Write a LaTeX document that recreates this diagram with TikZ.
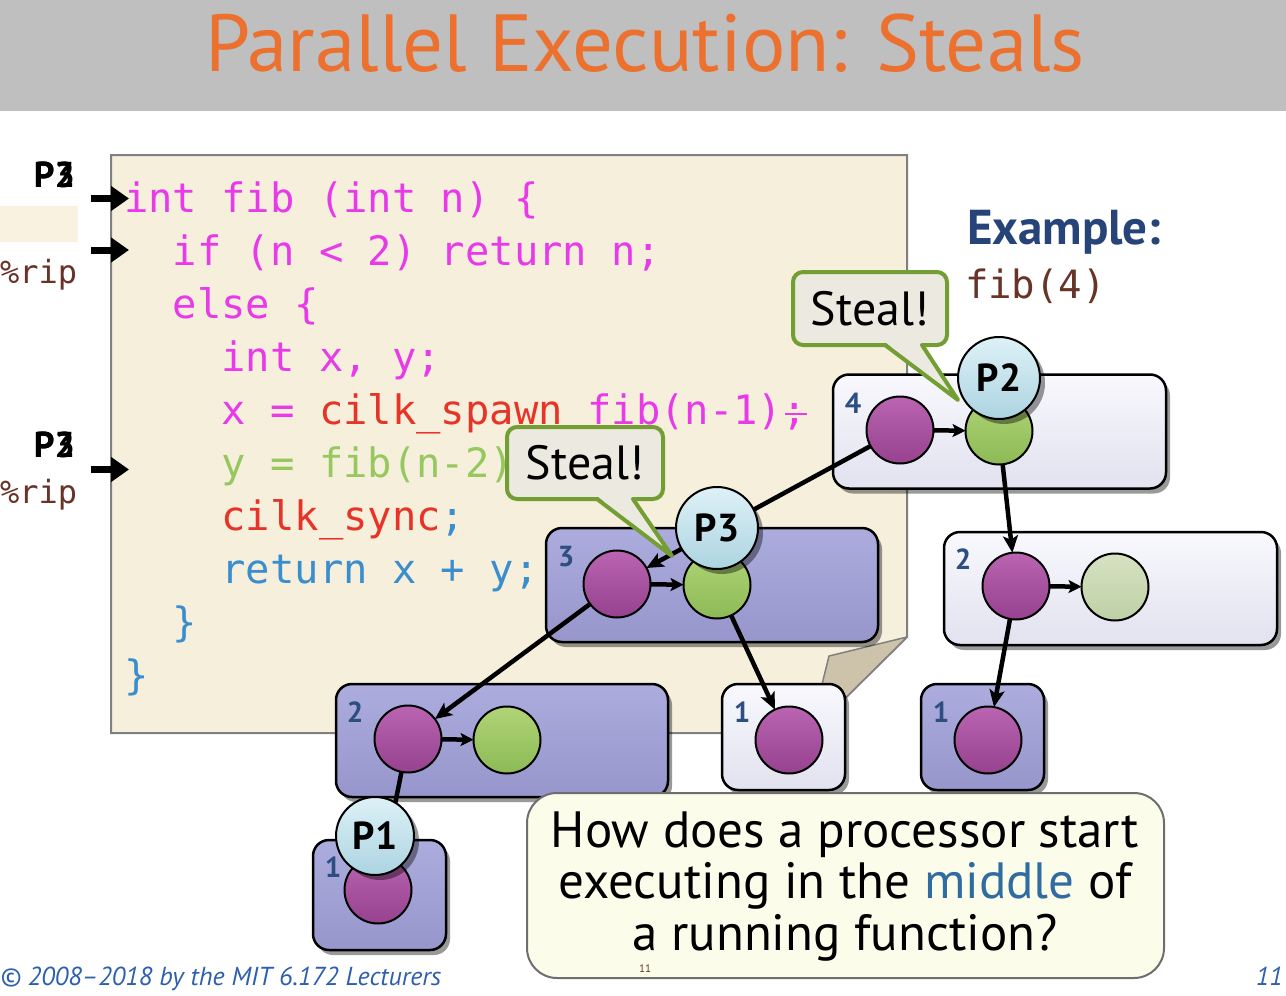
\documentclass[tikz,border=0pt]{standalone}
\usepackage{fontspec}
\setmainfont{PT Sans}
\setmonofont{DejaVu Sans Mono}
\usetikzlibrary{arrows.meta,shadows,calc}
\definecolor{ttl}{RGB}{236,113,47}
\definecolor{bar}{RGB}{191,191,191}
\definecolor{paper}{RGB}{246,239,220}
\definecolor{flap}{RGB}{204,195,170}
\definecolor{pgray}{RGB}{128,128,128}
\definecolor{cmag}{RGB}{232,58,232}
\definecolor{cred}{RGB}{230,52,40}
\definecolor{cgrn}{RGB}{150,200,95}
\definecolor{cblu}{RGB}{58,142,205}
\definecolor{brn}{RGB}{105,52,40}
\definecolor{exblue}{RGB}{38,68,120}
\definecolor{numblue}{RGB}{45,78,128}
\definecolor{lightTop}{RGB}{248,248,253}
\definecolor{lightBot}{RGB}{226,226,240}
\definecolor{darkTop}{RGB}{172,172,222}
\definecolor{darkBot}{RGB}{150,150,204}
\definecolor{purTop}{RGB}{186,100,178}
\definecolor{purBot}{RGB}{150,66,142}
\definecolor{grnTop}{RGB}{176,212,118}
\definecolor{grnBot}{RGB}{140,186,86}
\definecolor{pgTop}{RGB}{214,226,194}
\definecolor{pgBot}{RGB}{190,208,166}
\definecolor{procTop}{RGB}{222,241,247}
\definecolor{procBot}{RGB}{172,212,225}
\definecolor{stfill}{RGB}{236,234,224}
\definecolor{stgreen}{RGB}{114,158,52}
\definecolor{qfill}{RGB}{252,252,235}
\definecolor{qborder}{RGB}{110,110,110}
\definecolor{qblue}{RGB}{48,108,160}
\definecolor{foot}{RGB}{45,95,175}
\definecolor{ripbox}{RGB}{250,242,224}
\newcommand\setfs[1]{\fontsize{#1}{#1}\selectfont}
\begin{document}
\begin{tikzpicture}[x=1pt,y=-1pt,
  every node/.style={inner sep=0pt,outer sep=0pt},
  codeline/.style={anchor=base west,font=\ttfamily\setfs{40.5}},
  ptr/.style={line width=7pt,-{Triangle[length=18pt,width=24pt]}},
  fibframe/.style={draw=black,line width=2.5pt,rounded corners=16pt,
     drop shadow={shadow xshift=4pt,shadow yshift=-5pt,opacity=0.4,fill=black}},
  lightframe/.style={fibframe,top color=lightTop,bottom color=lightBot},
  darkframe/.style={fibframe,top color=darkTop,bottom color=darkBot},
  numlbl/.style={text=numblue,font=\bfseries\setfs{29}},
  purple/.style={circle,draw=black,line width=2pt,minimum size=67pt,top color=purTop,bottom color=purBot},
  green/.style={circle,draw=black,line width=2pt,minimum size=67pt,top color=grnTop,bottom color=grnBot},
  palegreen/.style={circle,draw=black,line width=2pt,minimum size=67pt,top color=pgTop,bottom color=pgBot},
  proc/.style={circle,draw=black,line width=2pt,minimum size=82pt,top color=procTop,bottom color=procBot,
     font=\bfseries\setfs{39},drop shadow={shadow xshift=5pt,shadow yshift=-5pt,opacity=0.4,fill=black}},
  edge/.style={line width=4.5pt,-{Stealth[length=17pt,width=15pt,inset=4pt]}},
  shortedge/.style={line width=4.5pt,-{Stealth[length=13pt,width=13pt,inset=3pt]}},
  stealbox/.style={draw=stgreen,fill=stfill,line width=4pt,rounded corners=10pt,font=\setfs{48}},
  stealptr/.style={draw=stgreen,line width=4pt,line join=round,line cap=round},
  qline/.style={anchor=base,font=\setfs{51}},
  plbl/.style={anchor=base west,font=\bfseries\setfs{36}}
]
\useasboundingbox (0,0) rectangle (1286,996);
\fill[white] (0,0) rectangle (1286,996);
% title
\fill[bar] (0,0) rectangle (1286,111);
\node[anchor=base,text=ttl,font=\setfs{81}] (title) at (645,71) {Parallel Execution: Steals};

% code page
\filldraw[fill=paper,draw=pgray,line width=2pt] (111,155) -- (907,155) -- (907,637) -- (810,733) -- (111,733) -- cycle;
\filldraw[fill=flap,draw=pgray,line width=1.5pt,line join=round] (907,637) -- (829,656) -- (810,733) -- cycle;

% left labels
\fill[ripbox] (0,206) rectangle (78,242);
\node[plbl] (pa1) at (34,187) {P3};
\node[plbl] (pb1) at (34,187) {P2};
\node[plbl] (pa2) at (34,457) {P3};
\node[plbl] (pb2) at (34,457) {P2};
\node[anchor=base west,text=brn,font=\ttfamily\setfs{32}] (rip1) at (0,283) {\%rip};
\node[anchor=base west,text=brn,font=\ttfamily\setfs{32}] (rip2) at (0,503) {\%rip};
\coordinate (ar1s) at (91,198.5); \coordinate (ar1e) at (129,198.5);
\coordinate (ar2s) at (91,250); \coordinate (ar2e) at (129,250);
\coordinate (ar3s) at (91,469.5); \coordinate (ar3e) at (129,469.5);
\draw[ptr] (ar1s) -- (ar1e);
\draw[ptr] (ar2s) -- (ar2e);
\draw[ptr] (ar3s) -- (ar3e);

% code
\node[codeline,text=cmag] (c1) at (124,212) {int fib (int n) \{};
\node[codeline,text=cmag] (c2) at (172.8,265.1) {if (n < 2) return n;};
\node[codeline,text=cmag] (c3) at (172.8,318.2) {else \{};
\node[codeline,text=cmag] (c4) at (221.5,371.3) {int x, y;};
\node[codeline,text=cmag] (c5) at (221.5,424.4) {x = \textcolor{cred}{cilk\_spawn} fib(n-1);};
\draw[cmag,line width=2pt] ($(c5.base east)+(-22,-10)$) -- ($(c5.base east)+(0,-10)$);
\node[codeline,text=cgrn] (c6) at (221.5,477.5) {y = fib(n-2);};
\node[codeline,text=cred] (c7) at (221.5,530.6) {cilk\_sync\textcolor{cblu}{;}};
\node[codeline,text=cblu] (c8) at (221.5,583.7) {return x + y;};
\node[codeline,text=cblu] (c9) at (172.8,636.8) {\}};
\node[codeline,text=cblu] (c10) at (124,689.9) {\}};

% example
\node[anchor=base west,text=exblue,font=\bfseries\setfs{49}] (ex) at (967,244) {Example:};
\node[anchor=base west,text=brn,font=\ttfamily\setfs{39}] (fib4) at (965,298) {fib(4)};

% frames
\node[lightframe,minimum width=333pt,minimum height=114pt] (f4) at (999.5,431.5) {};
\node[lightframe,minimum width=333pt,minimum height=113pt] (f2r) at (1110.5,588.5) {};
\node[darkframe,minimum width=332pt,minimum height=114pt] (f3) at (712,585) {};
\node[darkframe,minimum width=332pt,minimum height=113pt] (f2l) at (502,740.5) {};
\node[lightframe,minimum width=123pt,minimum height=106pt] (f1m) at (783.5,737) {};
\node[darkframe,minimum width=123pt,minimum height=106pt] (f1r) at (982.5,737) {};
\node[darkframe,minimum width=133pt,minimum height=110pt] (f1b) at (379.5,895) {};
\node[numlbl] (l4) at (853,403) {4};
\node[numlbl] (l3) at (566,557) {3};
\node[numlbl] (l2r) at (963,559) {2};
\node[numlbl] (l2l) at (355,712) {2};
\node[numlbl] (l1m) at (742,712) {1};
\node[numlbl] (l1r) at (941,712) {1};
\node[numlbl] (l1b) at (333,867) {1};

% strands
\node[purple] (p4) at (900,430) {};
\node[green] (g4) at (999,431) {};
\node[purple] (p3) at (617,584) {};
\node[green] (g3) at (717,585) {};
\node[purple] (p2r) at (1016,586) {};
\node[palegreen] (g2r) at (1115,587) {};
\node[purple] (p2l) at (408,739) {};
\node[green] (g2l) at (507,740) {};
\node[purple] (p1m) at (789,740) {};
\node[purple] (p1r) at (988,740) {};
\node[purple] (p1b) at (378,890) {};

% edges
\draw[shortedge] (p4) -- (g4);
\draw[shortedge] (p3) -- (g3);
\draw[shortedge] (p2r) -- (g2r);
\draw[shortedge] (p2l) -- (g2l);
\draw[edge] (p4) -- (p3);
\draw[edge] (g4) -- (p2r);
\draw[edge] (p3) -- (p2l);
\draw[edge] (g3) -- (p1m);
\draw[edge] (p2r) -- (p1r);
\draw[edge] (p2l) -- (p1b);

% processors
\node[proc] (P2) at (999,378) {P2};
\node[proc] (P3) at (717,528) {P3};
\node[proc,minimum size=78pt] (P1) at (375,836) {P1};

% steal callouts
\node[stealbox,minimum width=154pt,minimum height=73pt] (s1) at (870,308.5) {Steal!};
\coordinate (s1tip) at (958,400);
\fill[stfill] ([xshift=15pt,yshift=3pt]s1.south) -- (s1tip) -- ([xshift=52pt,yshift=3pt]s1.south) -- cycle;
\draw[stealptr] ([xshift=15pt]s1.south) -- (s1tip) -- ([xshift=52pt]s1.south);
\node[stealbox,minimum width=156pt,minimum height=72pt] (s2) at (585,463) {Steal!};
\coordinate (s2tip) at (672,556);
\fill[stfill] ([xshift=12pt,yshift=3pt]s2.south) -- (s2tip) -- ([xshift=48pt,yshift=3pt]s2.south) -- cycle;
\draw[stealptr] ([xshift=12pt]s2.south) -- (s2tip) -- ([xshift=48pt]s2.south);

% question
\node[draw=qborder,fill=qfill,line width=2pt,rounded corners=30pt,minimum width=637pt,minimum height=185pt] (q) at (845.5,885.5) {};
\node[qline] (q1) at (845,847) {How does a processor start};
\node[qline] (q2) at (845,898) {executing in the \textcolor{qblue}{middle} of};
\node[qline] (q3) at (845,950) {a running function?};
\node[font=\setfs{11},text=brn] (q11) at (645,969) {11};

% footer
\node[anchor=base west,text=foot,font=\itshape\setfs{26}] (ft) at (0,985) {© 2008–2018 by the MIT 6.172 Lecturers};
\node[anchor=base east,text=foot,font=\itshape\setfs{26}] (pg) at (1283,985) {11};
\end{tikzpicture}
\end{document}
